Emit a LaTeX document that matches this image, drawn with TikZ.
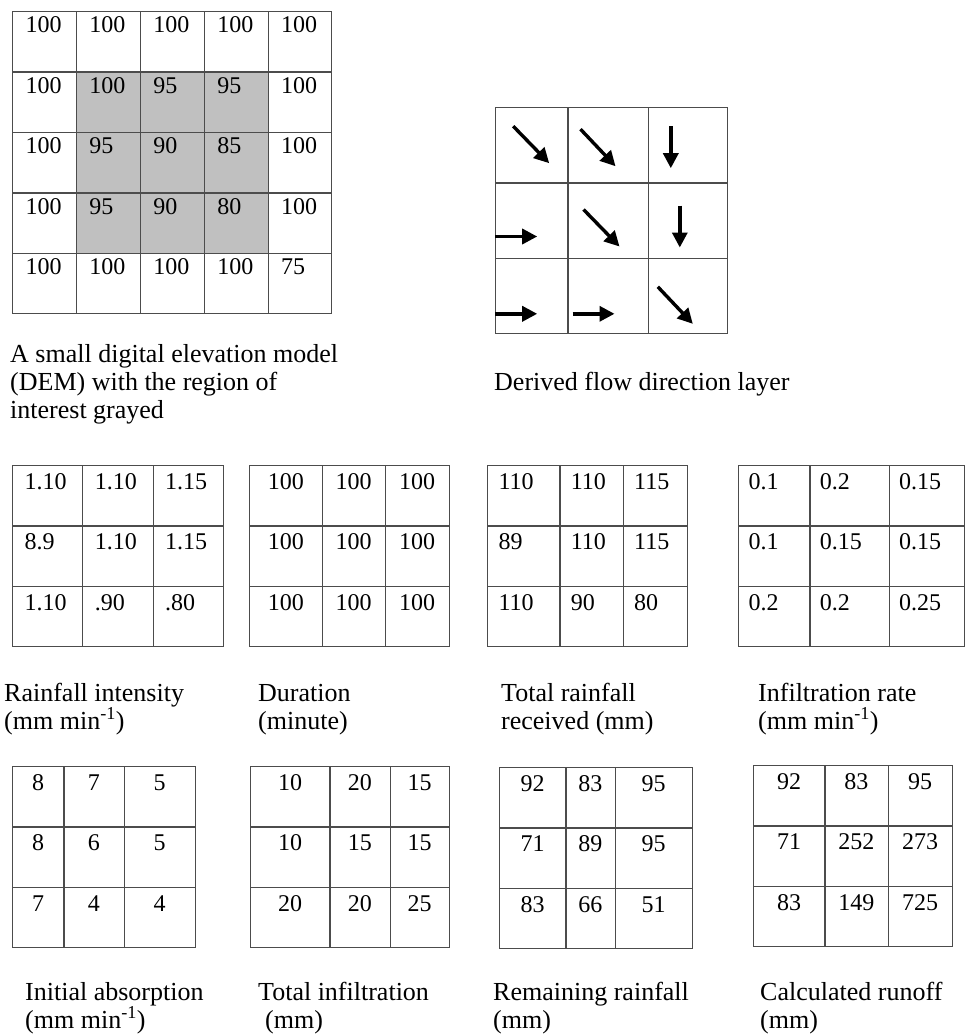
\documentclass[tikz,border=0pt]{standalone}
\usepackage{fontspec}
\setmainfont{Liberation Serif}
\usetikzlibrary{matrix,arrows.meta}

\definecolor{cellgray}{RGB}{192,192,192}
\newcommand{\numfont}{\fontsize{24}{29}\selectfont}
\newcommand{\capfont}{\fontsize{26}{28}\selectfont}

\tikzset{
  grid/.style={matrix of nodes, nodes in empty cells, matrix anchor=north west, inner sep=0pt,
    column sep=-\pgflinewidth, row sep=-\pgflinewidth,
    nodes={draw=black!70, line width=0.7pt, inner xsep=0pt, inner ysep=0pt, align=center,
      font=\numfont, text height=24pt, text depth=36pt}},
  padded/.style={nodes={align=left, inner xsep=#1}},
  cw/.style 2 args={column #1/.style={nodes={text width=#2}}},
  % anchor is the baseline of the last line
  caption/.style={anchor=base west, align=left, inner sep=0pt, font=\capfont},
  flowarrow/.style={line width=3.4pt, -{Triangle[length=15pt,width=15pt]}}
}

\begin{document}
\begin{tikzpicture}[x=1pt, y=-1pt]
\useasboundingbox (0,0) rectangle (965,1036);

% elevation model
\matrix (dem) [grid, padded=13pt, nodes={text width=37.6pt, text height=21pt, text depth=39.2pt}] at (12,11) {
  100 & 100 & 100 & 100 & 100 \\
  100 & |[fill=cellgray]| 100 & |[fill=cellgray]| 95 & |[fill=cellgray]| 95 & 100 \\
  100 & |[fill=cellgray]| 95 & |[fill=cellgray]| 90 & |[fill=cellgray]| 85 & 100 \\
  100 & |[fill=cellgray]| 95 & |[fill=cellgray]| 90 & |[fill=cellgray]| 80 & 100 \\
  100 & 100 & 100 & 100 & 75 \\
};
\node[caption] (demcap) at (10,418) {A small digital elevation model\\(DEM) with the region of\\interest grayed};

% flow directions
\matrix (flow) [grid, nodes={text height=0pt, text depth=75pt}, cw={1}{72pt}, cw={2}{80pt}, cw={3}{79pt}] at (495,107) {
  & & \\
  & & \\
  & & \\
};
\draw[flowarrow] ([shift={(18,19)}]flow-1-1.north west) -- ++(36,37);
\draw[flowarrow] ([shift={(13,22)}]flow-1-2.north west) -- ++(35,37);
\draw[flowarrow] ([shift={(23,19)}]flow-1-3.north west) -- ++(0,42);
\draw[flowarrow] ([shift={(0,54)}]flow-2-1.north west) -- ++(42,0);
\draw[flowarrow] ([shift={(16,27)}]flow-2-2.north west) -- ++(36,37);
\draw[flowarrow] ([shift={(32,23)}]flow-2-3.north west) -- ++(0,42);
\draw[flowarrow] ([shift={(0,56)}]flow-3-1.north west) -- ++(42,0);
\draw[flowarrow] ([shift={(5,56)}]flow-3-2.north west) -- ++(42,0);
\draw[flowarrow] ([shift={(10,29)}]flow-3-3.north west) -- ++(35,37);
\node[caption] (flowcap) at (494,390) {Derived flow direction layer};

% rainfall, duration, total, infiltration rate
\matrix (rain) [grid, padded=12pt, nodes={text width=46pt}] at (12,465) {
  1.10 & 1.10 & 1.15 \\
  8.9 & 1.10 & 1.15 \\
  1.10 & .90 & .80 \\
};
\matrix (dur) [grid, cw={1}{72.4pt}, cw={2}{62.6pt}, cw={3}{64pt}] at (249,465) {
  100 & 100 & 100 \\
  100 & 100 & 100 \\
  100 & 100 & 100 \\
};
\matrix (total) [grid, padded=11pt, cw={1}{50pt}, cw={2}{41pt}, cw={3}{42pt}] at (487,465) {
  110 & 110 & 115 \\
  89 & 110 & 115 \\
  110 & 90 & 80 \\
};
\matrix (infil) [grid, padded=10pt, cw={1}{51pt}, cw={2}{59pt}, cw={3}{55pt}] at (738,465) {
  0.1 & 0.2 & 0.15 \\
  0.1 & 0.15 & 0.15 \\
  0.2 & 0.2 & 0.25 \\
};
\node[caption] (raincap) at (4,729) {Rainfall intensity\\(mm min\textsuperscript{-1})};
\node[caption] (durcap) at (258,729) {Duration\\(minute)};
\node[caption] (totalcap) at (501,729) {Total rainfall\\received (mm)};
\node[caption] (infilcap) at (758,729) {Infiltration rate\\(mm min\textsuperscript{-1})};

% absorption, infiltration, remaining, runoff
\matrix (absorb) [grid, cw={1}{51pt}, cw={2}{60pt}, cw={3}{71pt}] at (12,766) {
  8 & 7 & 5 \\
  8 & 6 & 5 \\
  7 & 4 & 4 \\
};
\matrix (tinf) [grid, cw={1}{79pt}, cw={2}{60pt}, cw={3}{59pt}] at (250,766) {
  10 & 20 & 15 \\
  10 & 15 & 15 \\
  20 & 20 & 25 \\
};
\matrix (remain) [grid, cw={1}{66pt}, cw={2}{49pt}, cw={3}{77pt}] at (499,767) {
  92 & 83 & 95 \\
  71 & 89 & 95 \\
  83 & 66 & 51 \\
};
\matrix (runoff) [grid, cw={1}{71pt}, cw={2}{63pt}, cw={3}{64pt}] at (753,765) {
  92 & 83 & 95 \\
  71 & 252 & 273 \\
  83 & 149 & 725 \\
};
\node[caption] (absorbcap) at (25,1028) {Initial absorption\\(mm min\textsuperscript{-1})};
\node[caption] (tinfcap) at (258,1028) {Total infiltration\\\hspace*{7pt}(mm)};
\node[caption] (remaincap) at (493,1028) {Remaining rainfall\\(mm)};
\node[caption] (runoffcap) at (760,1028) {Calculated runoff\\(mm)};

\end{tikzpicture}
\end{document}
